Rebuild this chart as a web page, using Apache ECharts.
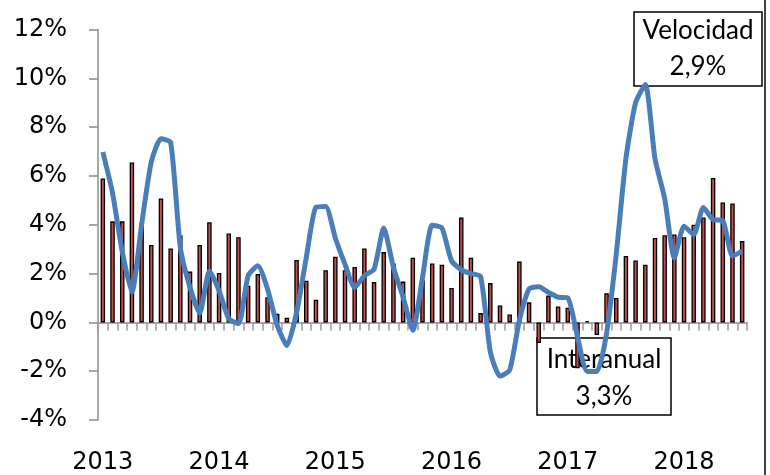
<!DOCTYPE html>
<html>
<head>
<meta charset="utf-8">
<script src="https://cdn.jsdelivr.net/npm/echarts@6/dist/echarts.min.js"></script>
<style>html,body{margin:0;padding:0;background:#fff;}#c{width:770px;height:475px;}</style>
</head>
<body>
<div id="c"></div>
<script>
var years = ['2013','2014','2015','2016','2017','2018'];
var monthNames = ['01','02','03','04','05','06','07','08','09','10','11','12'];
var months = [];
for (var yi = 0; yi < years.length; yi++) {
  for (var m = 0; m < 12; m++) {
    if (years[yi] === '2018' && m > 6) break;
    months.push(years[yi] + '-' + monthNames[m]);
  }
}
// Interanual (bars), %
var interanual = [5.90,4.14,4.14,6.55,4.07,3.17,5.08,3.03,3.57,2.08,3.17,4.10,
  2.02,3.64,3.49,1.50,1.98,1.03,0.35,0.19,2.56,1.71,0.93,2.14,
  2.69,2.14,2.27,3.03,1.65,2.88,2.41,1.67,2.65,1.73,2.41,2.36,
  1.41,4.30,2.65,0.38,1.61,0.69,0.32,2.49,0.82,-0.84,1.10,0.65,
  0.60,-1.88,0.05,-0.52,1.19,1.00,2.72,2.54,2.36,3.46,3.57,3.60,
  3.49,4.00,4.30,5.92,4.91,4.87,3.33];
// Velocidad (line), %
var velocidad = [6.98,5.30,2.90,1.23,4.00,6.57,7.52,7.38,3.06,1.43,0.38,2.11,
  1.30,0.15,-0.05,1.91,2.32,1.37,-0.12,-0.95,0.40,2.65,4.72,4.75,
  3.46,2.38,1.43,1.91,2.18,3.87,2.25,1.03,-0.32,1.84,3.98,3.87,
  2.52,2.15,2.00,1.88,-1.20,-2.20,-1.95,0.08,1.37,1.46,1.23,1.03,
  1.00,-0.59,-2.01,-2.01,-0.46,2.79,6.71,9.00,9.75,6.71,5.08,2.65,
  3.94,3.60,4.71,4.21,4.17,2.72,2.92];
var yTicks = {min: -4, max: 12, interval: 2};

var AXFONT = '"DejaVu Sans", sans-serif';
var NOTEFONT = 'Lato, "DejaVu Sans", sans-serif';
var chart = echarts.init(document.getElementById('c'), null, {renderer: 'canvas'});
chart.setOption({
  animation: false,
  backgroundColor: '#fff',
  grid: [{left: 98, top: 29.5, width: 649, height: 394.5}],
  xAxis: [
    {
      type: 'category', data: months, boundaryGap: true,
      axisLine: {onZero: true, lineStyle: {color: '#8c8c8c', width: 1.5}},
      axisTick: {show: true, interval: 0, length: 8, lineStyle: {color: '#9a9a9a', width: 1.5}},
      axisLabel: {show: false},
      splitLine: {show: false}
    },
    {
      type: 'category', data: months, boundaryGap: true, position: 'bottom',
      axisLine: {show: false, onZero: false}, axisTick: {show: false},
      axisLabel: {
        show: true, margin: 31, fontSize: 24, color: '#000', fontFamily: AXFONT,
        interval: function (idx) { return idx % 12 === 0; },
        formatter: function (v) { return v.slice(0, 4); }
      },
      splitLine: {show: false}
    }
  ],
  yAxis: [
    {
      type: 'value', min: yTicks.min, max: yTicks.max, interval: yTicks.interval,
      axisLine: {show: true, lineStyle: {color: '#8c8c8c', width: 1.5}},
      axisTick: {show: true, length: 9, lineStyle: {color: '#8c8c8c', width: 1.5}},
      axisLabel: {formatter: '{value}%', fontSize: 24, color: '#000', margin: 31, fontFamily: AXFONT},
      splitLine: {show: false}
    }
  ],
  series: [
    {
      name: 'Interanual', type: 'bar', xAxisIndex: 0, yAxisIndex: 0,
      data: interanual, barWidth: 4.5,
      itemStyle: {color: '#c0504d', borderColor: '#000', borderWidth: 1.3},
      z: 2
    },
    {
      name: 'Velocidad', type: 'line', xAxisIndex: 0, yAxisIndex: 0,
      data: velocidad, smooth: 0.2, symbol: 'none',
      lineStyle: {color: '#4a7ebb', width: 5},
      z: 3
    }
  ],
  graphic: [
    {type: 'rect', shape: {x: 634, y: 12, width: 128, height: 74}, style: {fill: 'none', stroke: '#000', lineWidth: 1.5}, z: 1},
    {type: 'text', x: 698, y: 13, style: {text: 'Velocidad\n2,9%', fill: '#000', font: '26px ' + NOTEFONT, textAlign: 'center', lineHeight: 36}, z: 1},
    {type: 'rect', shape: {x: 537, y: 338, width: 134, height: 77}, style: {fill: 'none', stroke: '#000', lineWidth: 1.5}, z: 1},
    {type: 'text', x: 604, y: 341, style: {text: 'Interanual\n3,3%', fill: '#000', font: '26px ' + NOTEFONT, textAlign: 'center', lineHeight: 37}, z: 1},
    {type: 'line', shape: {x1: 765, y1: 0, x2: 765, y2: 475}, style: {stroke: '#000', lineWidth: 1.5}, z: 1}
  ]
});
</script>
</body>
</html>
